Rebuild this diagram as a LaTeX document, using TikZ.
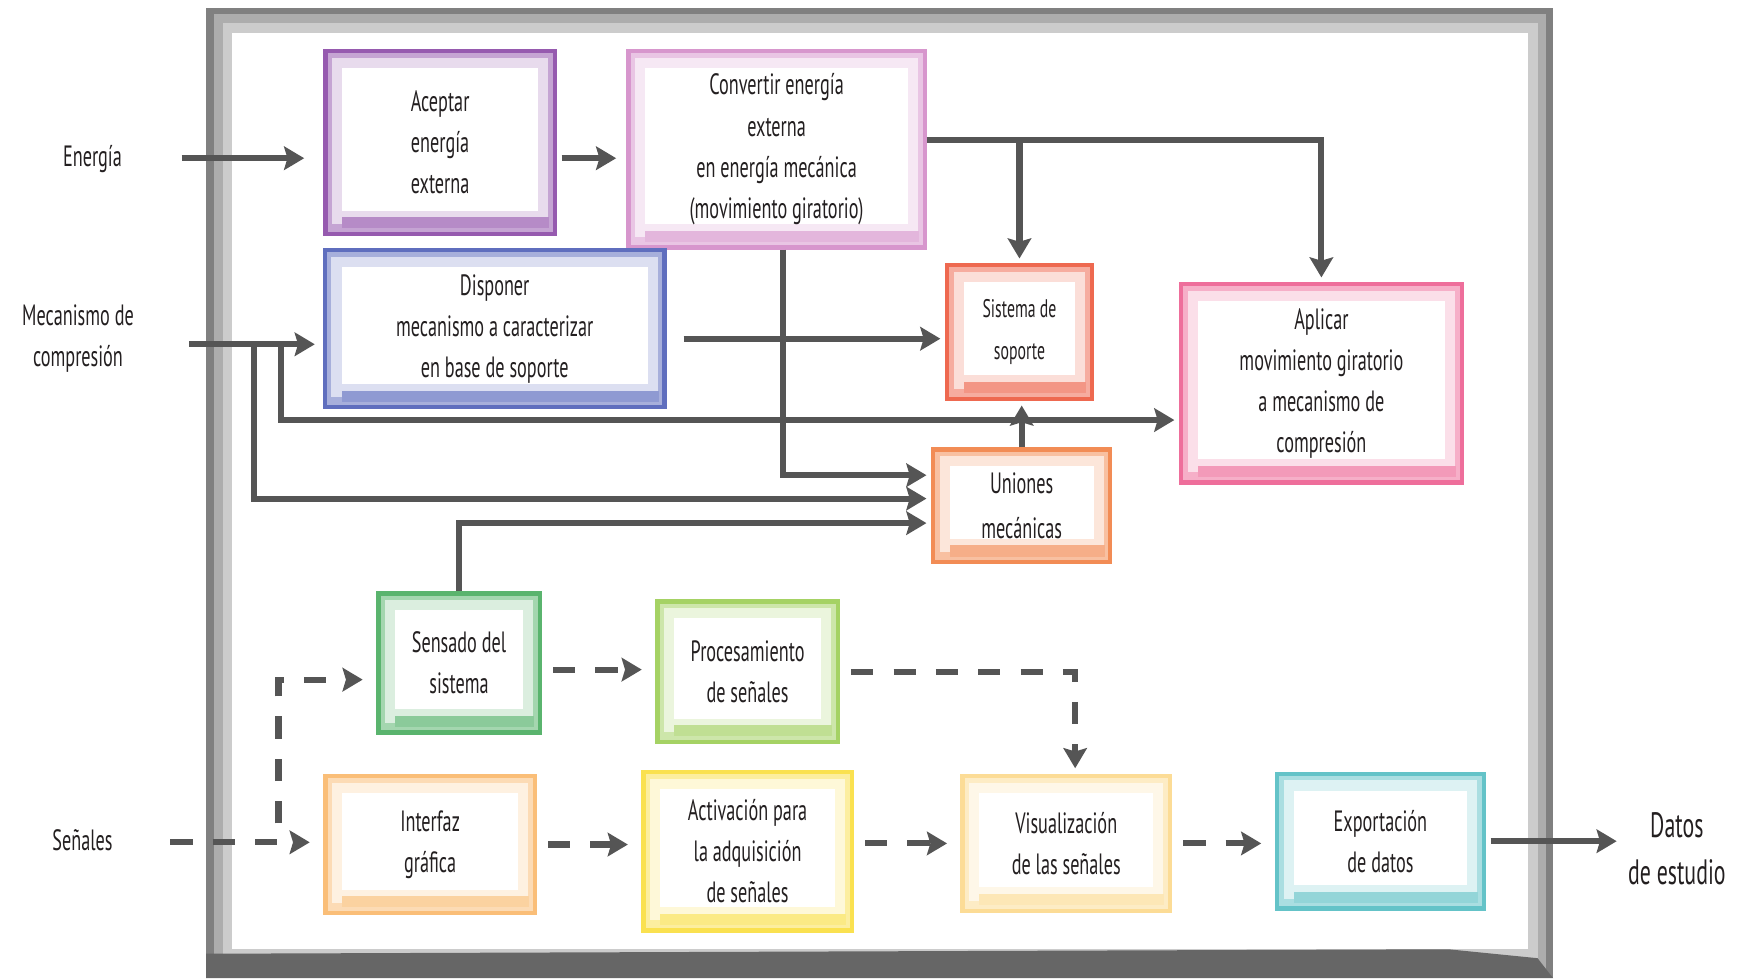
\documentclass[tikz,border=0pt]{standalone}
\usepackage{fontspec}
\setmainfont{PT Sans}[FakeStretch=0.62]
\usetikzlibrary{arrows.meta}

\begin{document}
\begin{tikzpicture}[x=0.02cm, y=-0.02cm,
  caja/.style={draw=#1, line width=0.08cm, fill=#1!55, align=center, text=texto,
    font=\fontsize{15}{21}\selectfont, inner sep=0pt,
    path picture={
      \fill[#1!22] ([shift={(0.12cm,-0.12cm)}]path picture bounding box.north west)
        rectangle ([shift={(-0.12cm,0.18cm)}]path picture bounding box.south east);
      \fill[#1!70] ([shift={(0.3cm,0.1cm)}]path picture bounding box.south west)
        rectangle ([shift={(-0.1cm,0.3cm)}]path picture bounding box.south east);
      \fill[white] ([shift={(0.3cm,-0.3cm)}]path picture bounding box.north west)
        rectangle ([shift={(-0.3cm,0.42cm)}]path picture bounding box.south east);
    }},
  flecha/.style={draw=linea, line width=0.11cm,
    -{Stealth[length=0.36cm,width=0.42cm,inset=0.06cm]}, shorten >=0.08cm},
  discont/.style={flecha, dash pattern=on 0.4cm off 0.36cm,
    shorten <=0.2cm, shorten >=0.24cm},
  etiqueta/.style={align=center, text=texto, font=\fontsize{15}{21}\selectfont}
]
  % Colores del esquema
  \definecolor{texto}{RGB}{35,31,32}
  \definecolor{linea}{RGB}{85,85,85}
  \definecolor{morado}{RGB}{150,90,175}
  \definecolor{lila}{RGB}{215,150,205}
  \definecolor{azul}{RGB}{95,110,190}
  \definecolor{coral}{RGB}{238,105,80}
  \definecolor{rosa}{RGB}{238,110,155}
  \definecolor{naranja}{RGB}{242,140,85}
  \definecolor{verde}{RGB}{90,180,110}
  \definecolor{verdeclaro}{RGB}{165,210,100}
  \definecolor{durazno}{RGB}{250,190,120}
  \definecolor{amarillo}{RGB}{250,225,80}
  \definecolor{crema}{RGB}{252,220,150}
  \definecolor{turquesa}{RGB}{100,195,200}

  \useasboundingbox (0,0) rectangle (1568,879);

  % Marco gris del sistema
  \fill[black!50] (185,7) rectangle (1394,878);
  \fill[black!32] (192,13) rectangle (1388,870);
  \fill[black!20] (200,21) rectangle (1380,862);
  \fill[white] (208,30) rectangle (1371,852);
  \fill[black!60] (185,856) -- (1300,852) -- (1380,860) -- (1394,878) -- (185,878) -- cycle;

  % Bloques
  \node[caja=morado, minimum width=4.12cm, minimum height=3.28cm] (acep) at (395,128)
    {Aceptar\\energía\\externa};
  \node[caja=lila, minimum width=5.32cm, minimum height=3.52cm] (conv) at (697,134)
    {Convertir energía\\externa\\en energía mecánica\\(movimiento giratorio)};
  \node[caja=azul, minimum width=6.1cm, minimum height=2.82cm] (disp) at (444,295)
    {Disponer\\mecanismo a caracterizar\\en base de soporte};
  \node[caja=coral, minimum width=2.6cm, minimum height=2.4cm,
    font=\fontsize{13}{21}\selectfont] (sist) at (915,298)
    {Sistema de\\soporte};
  \node[caja=rosa, minimum width=5.04cm, minimum height=3.56cm] (apli) at (1186,344)
    {Aplicar\\movimiento giratorio\\a mecanismo de\\compresión};
  \node[caja=naranja, minimum width=3.18cm, minimum height=2.02cm,
    font=\fontsize{15}{23}\selectfont] (unio) at (917,454)
    {Uniones\\mecánicas};
  \node[caja=verde, minimum width=2.9cm, minimum height=2.5cm] (sens) at (412,595)
    {Sensado del\\sistema};
  \node[caja=verdeclaro, minimum width=3.24cm, minimum height=2.52cm] (proc) at (671,603)
    {Procesamiento\\de señales};
  \node[caja=durazno, minimum width=3.76cm, minimum height=2.46cm] (inte) at (386,758)
    {Interfaz\\gráfica};
  \node[caja=amarillo, minimum width=3.74cm, minimum height=2.84cm] (acti) at (671,764)
    {Activación para\\la adquisición\\de señales};
  \node[caja=crema, minimum width=3.72cm, minimum height=2.42cm] (visu) at (957,757)
    {Visualización\\de las señales};
  \node[caja=turquesa, minimum width=3.72cm, minimum height=2.42cm] (expo) at (1239,755)
    {Exportación\\de datos};

  % Entradas y salida
  \node[etiqueta] (ener) at (83,143) {Energía};
  \node[etiqueta] (meca) at (70,304) {Mecanismo de\\compresión};
  \node[etiqueta] (sen) at (74,754) {Señales};
  \node[etiqueta, font=\fontsize{18}{24}\selectfont] (datos) at (1505,762) {Datos\\de estudio};
  \coordinate (e0) at (163,142);
  \coordinate (m0) at (170,309);
  \coordinate (s0) at (153,756);

  % Flujo de energía y mecanismo
  \draw[flecha, shorten >=0.34cm] (e0) -- (e0 -| acep.west);
  \draw[flecha, shorten <=0.08cm, shorten >=0.18cm] (e0 -| acep.east) -- (e0 -| conv.west);
  \draw[flecha] ([yshift=0.16cm]conv.east) -| (sist.north);
  \draw[flecha] ([yshift=0.16cm]conv.east) -| (apli.north);
  \draw[flecha, shorten <=0.3cm] ([yshift=-0.18cm]disp.east) -- ([yshift=-0.18cm]disp.east -| sist.west);
  \draw[flecha, shorten >=0.14cm] (m0) -- (m0 -| disp.west);
  \draw[flecha] (m0) -- ++(58,0) |- ([yshift=0.13cm]unio.west);
  \draw[flecha] (m0) -- ++(82,0) |- ([yshift=-0.66cm]apli.west);
  \draw[flecha] ([xshift=0.12cm]conv.south) |- ([yshift=0.55cm]unio.west);
  \draw[flecha] (unio.north) -- (unio.north |- sist.south);
  \draw[flecha] (sens.north) |- ([yshift=-0.31cm]unio.west);
  \draw[flecha, shorten <=0.08cm] (expo.east) -- (expo.east -| datos.west);

  % Flujo de señales
  \draw[discont, shorten <=0pt] (s0) -- (s0 -| inte.west);
  \draw[discont, shorten <=0pt] (s0) -- ++(97,0) |- ([yshift=-0.3cm]sens.west);
  \draw[discont] ([yshift=-0.12cm]sens.east) -- ([yshift=-0.12cm]sens.east -| proc.west);
  \draw[discont, shorten >=0.1cm] (proc.east) -| ([xshift=0.16cm]visu.north);
  \draw[discont] (inte.east) -- (inte.east -| acti.west);
  \draw[discont] (visu.west -| acti.east) -- (visu.west);
  \draw[discont] (visu.east) -- (visu.east -| expo.west);
\end{tikzpicture}
\end{document}
